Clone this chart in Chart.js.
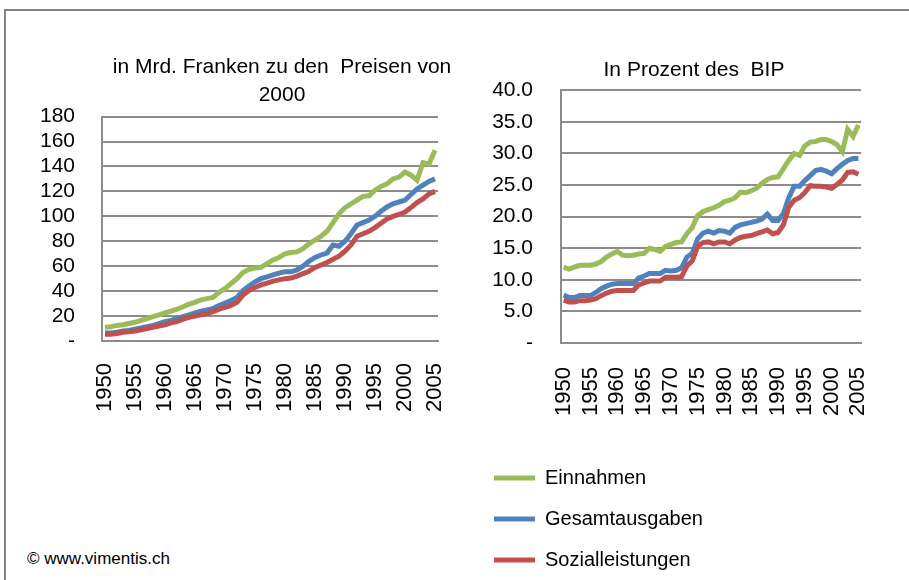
<!DOCTYPE html>
<html>
<head>
<meta charset="utf-8">
<script src="https://cdn.jsdelivr.net/npm/chart.js@4.4.0/dist/chart.umd.min.js"></script>
<style>
    body { margin: 0; background: #fff; width: 909px; height: 580px; overflow: hidden; position: relative; font-family: "Liberation Sans", Arial, sans-serif; }
    .frame { position: absolute; left: 4px; top: 9px; width: 910px; height: 580px; border-top: 2px solid #808080; border-left: 2px solid #808080; }
    canvas { position: absolute; }
    #leftChart { left: 0; top: 0; }
    #rightChart { left: 479px; top: 0; }
    #legendChart { left: 473px; top: 447px; }
    .copy { position: absolute; left: 27px; top: 549px; font-size: 17px; color: #000; }
</style>
</head>
<body>
<div class="frame"></div>
<canvas id="leftChart" width="564" height="440"></canvas>
<canvas id="rightChart" width="430" height="440"></canvas>
<canvas id="legendChart" width="300" height="160"></canvas>
<div class="copy">© www.vimentis.ch</div>
<script>
const years = [1950, 1951, 1952, 1953, 1954, 1955, 1956, 1957, 1958, 1959,
    1960, 1961, 1962, 1963, 1964, 1965, 1966, 1967, 1968, 1969,
    1970, 1971, 1972, 1973, 1974, 1975, 1976, 1977, 1978, 1979,
    1980, 1981, 1982, 1983, 1984, 1985, 1986, 1987, 1988, 1989,
    1990, 1991, 1992, 1993, 1994, 1995, 1996, 1997, 1998, 1999,
    2000, 2001, 2002, 2003, 2004, 2005];

const seriesNames = ['Einnahmen', 'Gesamtausgaben', 'Sozialleistungen'];

// in Mrd. Franken zu den Preisen von 2000
const mrdEinnahmen = [11, 11.5, 12.5, 13, 14, 15, 16.5, 18, 19.5, 21,
    22.5, 24, 25.5, 27.5, 29.5, 31, 33, 34, 35, 39,
    42, 46, 50, 55, 57.5, 58.5, 59, 62, 65, 67,
    70, 71, 71.5, 74, 78, 81, 84, 88, 95, 102,
    107, 110, 113, 116, 116.5, 121, 124, 126, 130, 131.5,
    135.5, 133, 129, 143, 142, 153];
const mrdAusgaben = [6.5, 6.5, 7, 8, 8.5, 9.5, 10.5, 11.5, 12.5, 14,
    15.5, 16.5, 18, 19.5, 21, 22.5, 24, 25, 26, 28.5,
    30.5, 32.5, 35, 40.5, 44, 47.5, 50, 51.5, 53, 54.5,
    55.5, 55.5, 57, 60, 64, 67, 69, 70.5, 77, 76,
    80, 86, 93, 95, 97, 100, 104, 107.5, 110, 111.5,
    113, 117.5, 122, 125, 128, 130];
const mrdSozial = [5.5, 5.5, 6, 7, 7.5, 8, 9, 10, 11, 12,
    13, 14.5, 15.5, 17.5, 19, 20, 21, 22, 23.5, 25.5,
    27, 28.5, 31, 37, 40.5, 43, 45, 46.5, 48, 49,
    50, 50.5, 52, 54, 56, 59, 61, 63, 65.5, 68,
    72, 77, 84, 86, 88, 91, 94.5, 98, 100, 101.5,
    103.5, 107, 111, 114, 118, 120];

// in Prozent des BIP
const bipEinnahmen = [12.0, 11.7, 12.0, 12.3, 12.3, 12.3, 12.5, 12.9, 13.6, 14.1,
    14.5, 13.9, 13.8, 13.9, 14.1, 14.2, 15.0, 14.8, 14.5, 15.3,
    15.6, 15.9, 16.0, 17.3, 18.3, 20.2, 20.8, 21.1, 21.4, 21.8,
    22.4, 22.6, 23.0, 23.9, 23.8, 24.1, 24.5, 25.3, 25.9, 26.2,
    26.3, 27.6, 28.9, 30.0, 29.7, 31.2, 31.8, 31.9, 32.2, 32.2,
    31.9, 31.4, 30.3, 33.8, 32.7, 34.5];
const bipAusgaben = [7.6, 7.2, 7.2, 7.5, 7.5, 7.5, 8.0, 8.6, 9.0, 9.3,
    9.4, 9.4, 9.4, 9.4, 10.3, 10.6, 11.0, 11.0, 11.0, 11.5,
    11.4, 11.5, 11.9, 13.6, 14.2, 16.5, 17.4, 17.7, 17.4, 17.8,
    17.7, 17.4, 18.3, 18.7, 18.9, 19.1, 19.3, 19.6, 20.4, 19.4,
    19.4, 20.5, 23.0, 24.8, 24.8, 25.7, 26.5, 27.3, 27.5, 27.2,
    26.8, 27.6, 28.3, 28.9, 29.2, 29.2];
const bipSozial = [6.8, 6.5, 6.5, 6.7, 6.7, 6.8, 7.0, 7.5, 7.9, 8.2,
    8.3, 8.3, 8.3, 8.3, 9.2, 9.5, 9.8, 9.8, 9.8, 10.4,
    10.4, 10.4, 10.5, 12.2, 13.0, 15.3, 15.9, 16.0, 15.7, 16.0,
    16.0, 15.7, 16.3, 16.7, 16.9, 17.0, 17.3, 17.6, 17.9, 17.3,
    17.5, 18.7, 21.5, 22.6, 23.0, 23.8, 24.9, 24.8, 24.8, 24.7,
    24.5, 25.1, 25.8, 27.0, 27.1, 26.7];

const colors = ['#9BBB59', '#4F81BD', '#C0504D'];
const gridColor = '#8c8c8c';

Chart.defaults.font.family = '"Liberation Sans", Arial, sans-serif';
Chart.defaults.color = '#000';
Chart.defaults.animation = false;

function makeDatasets(values) {
    return values.map((data, i) => ({
        label: seriesNames[i],
        data: data,
        borderColor: colors[i],
        backgroundColor: colors[i],
        borderWidth: 5,
        pointRadius: 0,
        tension: 0,
        order: 3 - i
    }));
}

function makeOptions(cfg) {
    return {
        responsive: false,
        devicePixelRatio: 1,
        layout: { padding: 0 },
        plugins: {
            legend: { display: false },
            tooltip: { enabled: false },
            title: {
                display: true,
                text: cfg.title,
                font: { size: 21, weight: 'normal', lineHeight: 1.3 },
                color: '#000',
                padding: cfg.titlePad
            }
        },
        scales: {
            x: {
                offset: true,
                grid: { display: true, color: 'rgba(0,0,0,0)', drawTicks: false },
                border: { display: true, color: gridColor, width: 2 },
                ticks: {
                    autoSkip: false,
                    minRotation: 90,
                    maxRotation: 90,
                    padding: cfg.xPad,
                    font: { size: 22 },
                    callback: function(value, index) {
                        return years[index] % 5 === 0 ? String(years[index]) : '';
                    }
                },
                afterFit: function(scale) { scale.height = cfg.xHeight; }
            },
            y: {
                min: 0,
                max: cfg.max,
                grid: { color: gridColor, lineWidth: 2, drawTicks: false },
                border: { display: true, color: gridColor, width: 2 },
                ticks: {
                    autoSkip: false,
                    stepSize: cfg.step,
                    padding: cfg.yPad,
                    font: { size: 21 },
                    callback: cfg.tickFormat
                },
                afterFit: function(scale) { scale.width = cfg.yWidth; }
            },
            // empty space right of the plot, keeps the title centred like the original
            spacer: {
                type: 'linear',
                position: 'right',
                grid: { display: false, drawTicks: false },
                border: { display: false },
                ticks: { display: false },
                afterFit: function(scale) { scale.width = cfg.rightGap; }
            }
        }
    };
}

new Chart(document.getElementById('leftChart'), {
    type: 'line',
    data: { labels: years, datasets: makeDatasets([mrdEinnahmen, mrdAusgaben, mrdSozial]) },
    options: makeOptions({
        title: ['in Mrd. Franken zu den  Preisen von', '2000'],
        titlePad: { top: 54, bottom: 8 },
        rightGap: 126,
        max: 180, step: 20,
        yWidth: 102, yPad: 27,
        xHeight: 99, xPad: 22,
        tickFormat: v => v === 0 ? '-' : v
    })
});

new Chart(document.getElementById('rightChart'), {
    type: 'line',
    data: { labels: years, datasets: makeDatasets([bipEinnahmen, bipAusgaben, bipSozial]) },
    options: makeOptions({
        title: 'In Prozent des  BIP',
        titlePad: { top: 57, bottom: 6 },
        rightGap: 20,
        max: 40, step: 5,
        yWidth: 82, yPad: 28,
        xHeight: 97, xPad: 24,
        tickFormat: v => v === 0 ? '-' : v.toFixed(1)
    })
});

// legend only
new Chart(document.getElementById('legendChart'), {
    type: 'line',
    data: {
        labels: [],
        datasets: seriesNames.map((name, i) => ({
            label: name, data: [], borderColor: colors[i], backgroundColor: colors[i], borderWidth: 0
        }))
    },
    options: {
        responsive: false,
        devicePixelRatio: 1,
        scales: { x: { display: false }, y: { display: false } },
        plugins: {
            tooltip: { enabled: false },
            legend: {
                position: 'left',
                align: 'start',
                maxWidth: 300,
                labels: { boxWidth: 41, boxHeight: 5, padding: 21, font: { size: 20 }, color: '#000' }
            }
        }
    }
});
</script>
</body>
</html>
